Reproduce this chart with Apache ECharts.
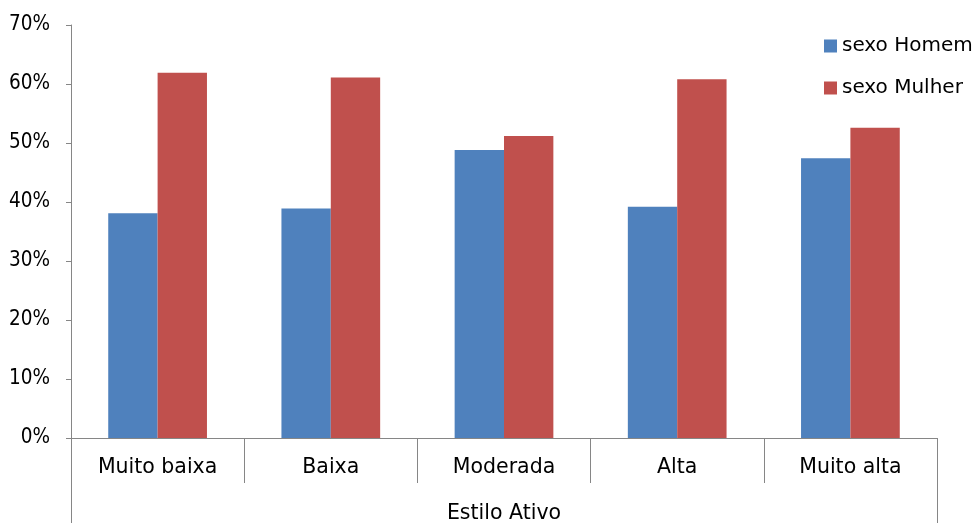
<!DOCTYPE html>
<html><head><meta charset="utf-8">
<script src="https://cdn.jsdelivr.net/npm/echarts@6/dist/echarts.min.js"></script>
<style>html,body{margin:0;padding:0;background:#fff}#c{width:978px;height:525px}</style>
</head><body><div id="c"></div>
<script>
const categories = ['Muito baixa', 'Baixa', 'Moderada', 'Alta', 'Muito alta'];
const groupLabel = ['Estilo Ativo'];
const homem = [38.1, 38.9, 48.8, 39.2, 47.4];
const mulher = [61.9, 61.1, 51.2, 60.8, 52.6];
const seriesNames = ['sexo Homem', 'sexo Mulher'];

const fontC = 'DejaVu Sans Condensed, DejaVu Sans';
const font = 'DejaVu Sans';
const axisColor = '#868686';
const chart = echarts.init(document.getElementById('c'));
chart.setOption({
  animation: false,
  grid: { left: 71, right: 41, top: 25, bottom: 87 },
  legend: {
    orient: 'vertical', left: 819, top: 30, itemWidth: 13, itemHeight: 13, itemGap: 20,
    icon: 'rect',
    textStyle: { fontFamily: font, fontSize: 20, lineHeight: 22, color: '#000' },
    data: seriesNames
  },
  xAxis: [{
    type: 'category', data: categories, position: 'bottom',
    axisLine: { lineStyle: { color: axisColor, width: 1 } },
    axisTick: { show: true, length: 45, interval: 0, lineStyle: { color: axisColor } },
    axisLabel: { fontFamily: font, fontSize: 20.5, color: '#000', margin: 19, interval: 0 }
  }, {
    type: 'category', data: groupLabel, position: 'bottom',
    axisLine: { show: false },
    axisTick: { show: true, length: 85, lineStyle: { color: axisColor } },
    axisLabel: { fontFamily: font, fontSize: 20.5, color: '#000', margin: 65 }
  }],
  yAxis: {
    type: 'value', min: 0, max: 70, interval: 10,
    axisLine: { show: true, lineStyle: { color: axisColor } },
    axisTick: { show: true, length: 5, lineStyle: { color: axisColor } },
    splitLine: { show: false },
    axisLabel: { formatter: '{value}%', fontFamily: fontC, fontSize: 20.5, color: '#000', margin: 21 }
  },
  series: [
    { name: seriesNames[0], type: 'bar', data: homem, itemStyle: { color: '#4F81BD' }, barGap: '0%', barCategoryGap: '43%' },
    { name: seriesNames[1], type: 'bar', data: mulher, itemStyle: { color: '#C0504D' }, barGap: '0%', barCategoryGap: '43%' }
  ]
});
</script></body></html>
